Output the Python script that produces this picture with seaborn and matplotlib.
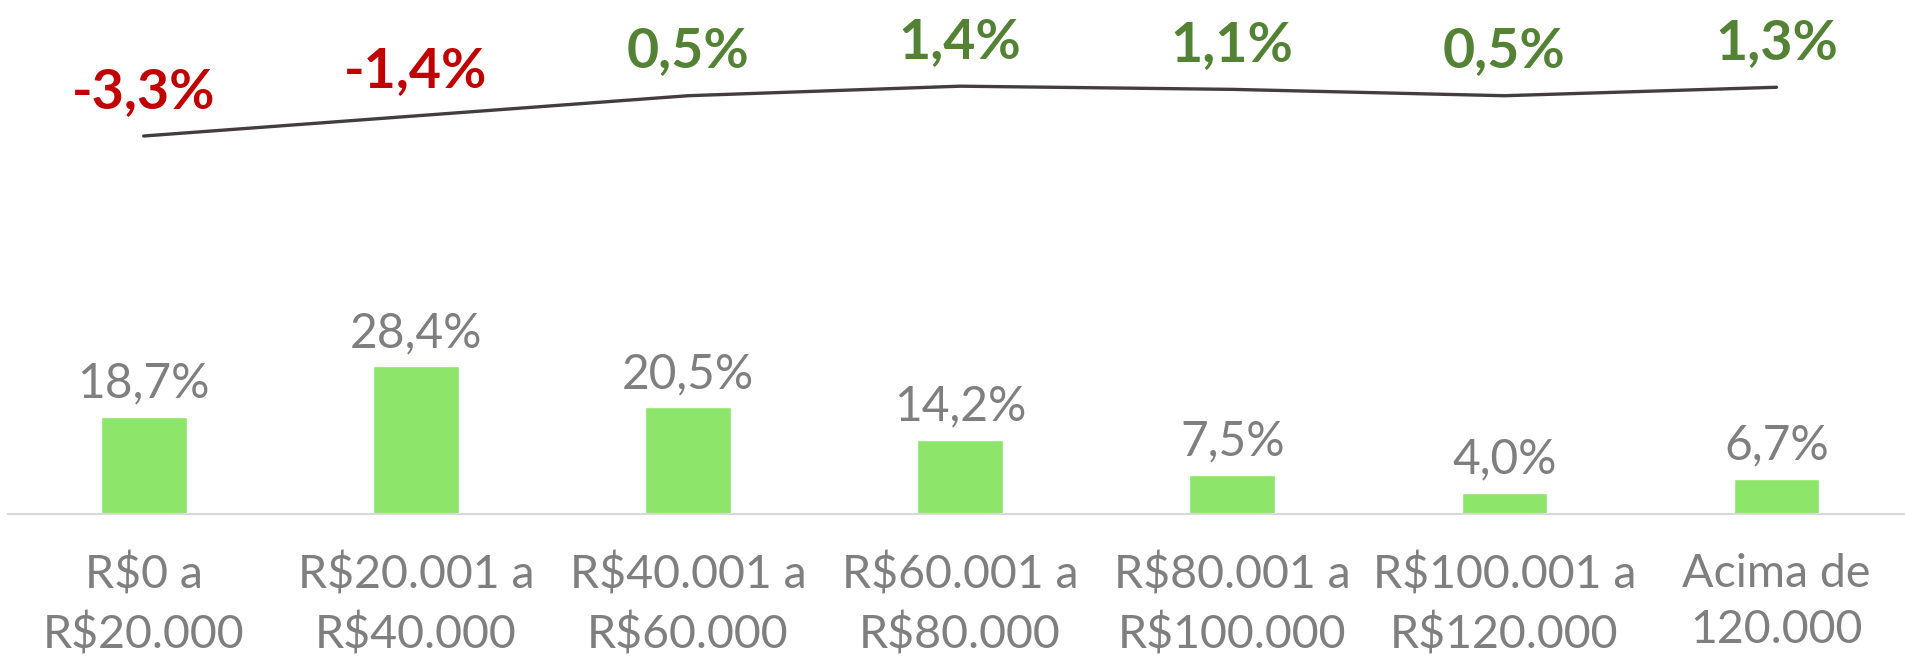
import numpy as np
import matplotlib
matplotlib.use('Agg')
import matplotlib.pyplot as plt
import seaborn as sns

# Chart data
faixas = ['R$0 a\nR$20.000', 'R$20.001 a\nR$40.000', 'R$40.001 a\nR$60.000',
          'R$60.001 a\nR$80.000', 'R$80.001 a\nR$100.000', 'R$100.001 a\nR$120.000',
          'Acima de\n120.000']
participacao = [18.7, 28.4, 20.5, 14.2, 7.5, 4.0, 6.7]
variacao = [-3.3, -1.4, 0.5, 1.4, 1.1, 0.5, 1.3]

sns.set_style('white')
plt.rcParams['font.family'] = ['Lato', 'DejaVu Sans']

cinza = '#7f7f7f'
fig = plt.figure(figsize=(19.05, 6.65), dpi=100)
ax = fig.add_axes([0.004, 0.227, 1.0, 0.773])

# Bars: share of each income bracket
sns.barplot(x=faixas, y=participacao, color='#8de66a', saturation=1, width=0.315, ax=ax)
ax.set_ylim(0, 98.8)
ax.set_xlim(-0.5, 6.5)
for i, v in enumerate(participacao):
    ax.annotate(f'{v:.1f}%'.replace('.', ','), (i, v), xytext=(0, 24), textcoords='offset points',
                ha='center', va='center', fontsize=34.5, color=cinza)

# Line: variation on a secondary axis
ax2 = ax.twinx()
sns.lineplot(x=np.arange(len(variacao)), y=variacao, color='#433d3f', linewidth=2.4, ax=ax2)
ax2.set_ylim(-38.96, 9.53)
for i, v in enumerate(variacao):
    cor = '#c00000' if v < 0 else '#548235'
    ax2.annotate(f'{v:.1f}%'.replace('.', ','), (i, v), xytext=(0, 32), textcoords='offset points',
                 ha='center', va='center', fontsize=40, fontweight='bold', color=cor)

for a in (ax, ax2):
    for s in ['top', 'left', 'right']:
        a.spines[s].set_visible(False)
    a.set_yticks([])
    a.set_ylabel('')
ax2.spines['bottom'].set_visible(False)
ax.spines['bottom'].set_color('#d9d9d9')
ax.spines['bottom'].set_linewidth(1.5)
ax.tick_params(axis='x', length=0, pad=28, labelsize=33.5, labelcolor=cinza)
for lbl in ax.get_xticklabels():
    lbl.set_linespacing(1.42)

fig.savefig('out.png', dpi=100)
plt.close()
